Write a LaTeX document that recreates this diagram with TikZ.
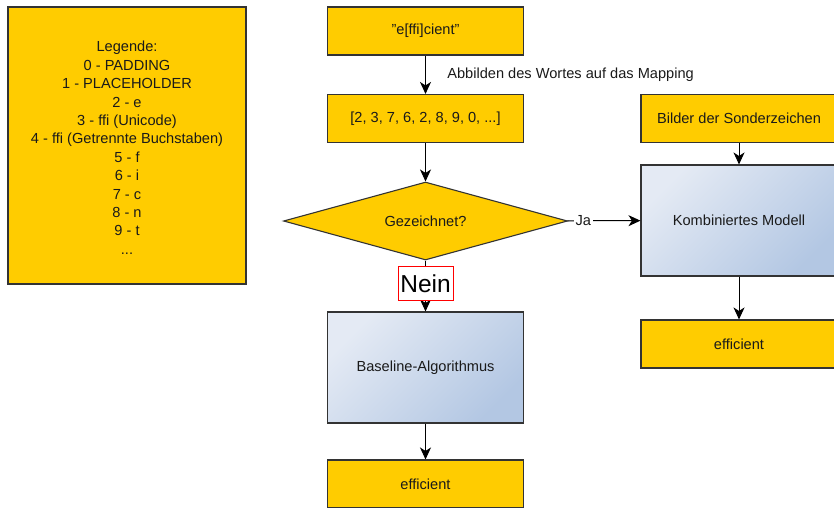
\documentclass[tikz,border=0pt]{standalone}
\usepackage{fontspec}
\setmainfont{Liberation Sans}
\usetikzlibrary{shapes.geometric,arrows.meta}
\definecolor{ylw}{HTML}{FFCC00}
\definecolor{bl1}{HTML}{E4EAF4}
\definecolor{bl2}{HTML}{B3C7E3}
\definecolor{txt}{HTML}{1A1A1A}
\tikzset{
  every node/.style={font=\fontsize{14.6}{18.4}\selectfont, text=txt},
  ybox/.style={draw=black!80, line width=1.1pt, fill=ylw, minimum width=196pt, minimum height=48pt, inner sep=0pt},
  gbox/.style={draw=black!80, line width=1.1pt, top color=bl1, bottom color=bl2, shading angle=45, minimum width=196pt, minimum height=111pt, inner sep=0pt},
  conn/.style={draw=black, line width=1pt, -{Stealth[length=12pt,width=11pt,inset=3.5pt]}},
}
\begin{document}
\begin{tikzpicture}[x=1pt,y=-1pt]
\useasboundingbox (0,0) rectangle (834,507);
\node[draw=black!80, line width=1.1pt, fill=ylw, minimum width=238pt, minimum height=277pt, inner sep=0pt, align=center] (leg) at (127,145.5)
  {\rule{0pt}{15pt}Legende:\\0 - PADDING\\1 - PLACEHOLDER\\2 - e\\3 - ffi (Unicode)\\4 - ffi (Getrennte Buchstaben)\\5 - f\\6 - i\\7 - c\\8 - n\\9 - t\\...};
\node[ybox] (word) at (425.5,31) {"e[ffi]cient"};
\node[ybox] (map) at (425.5,118.5) {[2, 3, 7, 6, 2, 8, 9, 0, ...]};
\node[draw=black!80, line width=1.1pt, fill=ylw, diamond, aspect=3.64, minimum width=284pt, minimum height=78pt, inner sep=0pt] (dec) at (425.5,221) {Gezeichnet?};
\node[gbox] (base) at (425.5,367.5) {Baseline-Algorithmus};
\node[ybox] (eff1) at (425.5,484) {efficient};
\node[ybox] (img) at (739,118.5) {Bilder der Sonderzeichen};
\node[gbox] (comb) at (739,220.5) {Kombiniertes Modell};
\node[ybox] (eff2) at (739,344) {efficient};
\draw[conn] (word) -- (map) node[midway, right=18pt, text=txt] (lab) {Abbilden des Wortes auf das Mapping};
\draw[conn] (map) -- (dec);
\draw[conn] (dec) -- (base) node[pos=0.45, fill=white, draw=red, line width=0.8pt, minimum width=55pt, minimum height=34pt, inner sep=0pt, font=\fontsize{24.5}{28}\selectfont, text=black] (nein) {Nein};
\draw[conn] (dec) -- (comb) node[pos=0.22, fill=white, inner sep=2pt] (ja) {Ja};
\draw[conn] (base) -- (eff1);
\draw[conn] (img) -- (comb);
\draw[conn] (comb) -- (eff2);
\end{tikzpicture}
\end{document}
